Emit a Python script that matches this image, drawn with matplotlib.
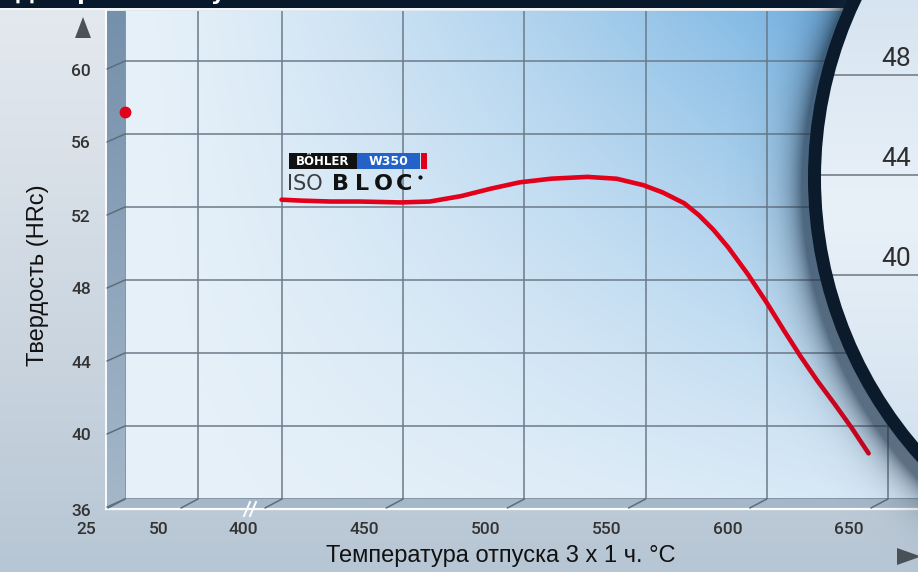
import numpy as np
import matplotlib
matplotlib.use("Agg")
import matplotlib.pyplot as plt
from matplotlib.patches import Rectangle, Polygon, Circle
from matplotlib.colors import to_rgb

# Tempering curve, BÖHLER W350 ISOBLOC (tempering 3 x 1 h)
temp_c = [398, 408, 420, 432, 449, 461, 474, 486, 498, 511, 526, 538, 549,
          557, 566, 572, 578, 584, 592, 600, 607, 614, 621, 628, 635, 642]
hardness_hrc = [52.4, 52.35, 52.3, 52.3, 52.25, 52.3, 52.6, 53.0, 53.35, 53.55,
                53.65, 53.55, 53.2, 52.8, 52.2, 51.55, 50.75, 49.8, 48.35, 46.75,
                45.25, 43.8, 42.45, 41.2, 39.9, 38.5]

# as-hardened state
quench_temp_c = [25]
quench_hrc = [57.2]

x_ticks = [25, 50, 400, 450, 500, 550, 600, 650]
x_tick_labels = ["25", "50", "400", "450", "500", "550", "600", "650"]
y_ticks = [36, 40, 44, 48, 52, 56, 60]
y_tick_labels = ["36", "40", "44", "48", "52", "56", "60"]
lens_ticks = [48, 44, 40]
lens_tick_labels = ["48", "44", "40"]

title = "Диаграмма отпуска"
x_label = "Температура отпуска 3 х 1 ч. °C"
y_label = "Твердость (HRc)"

W, H = 918, 572
fig = plt.figure(figsize=(W / 100, H / 100), dpi=100)


def blend(c0, c1, t):
    c0 = np.array(to_rgb(c0))
    c1 = np.array(to_rgb(c1))
    return c0 + (c1 - c0) * t[..., None]


# ---------- background layer (pixel coordinates) ----------
yy, xx = np.mgrid[0:H, 0:W] + 0.5
bg = blend("#e4e9ef", "#b7c6d4", (yy / H) ** 1.1)

PX0, PX1, PY0, PY1 = 125, 918, 11, 499
inside = (xx >= PX0) & (yy >= PY0) & (yy < PY1)
xn = np.clip((xx - PX0) / (PX1 - PX0), 0, 1)
yn = np.clip((yy - PY0) / (PY1 - PY0), 0, 1)
t = np.clip(xn * (1 - 0.78 * yn), 0, 1) ** 1.35
panel = blend("#e7f1f9", "#5fa6dd", t)
bg[inside] = panel[inside]

wall = (xx >= 107) & (xx < PX0) & (yy >= PY0) & (yy < 508)
bg[wall] = blend("#7590ab", "#a4b7c9", yn)[wall]

bg[0:8] = to_rgb("#07192b")
bg[8:10, :840] = to_rgb("#f2f5f8")

ax_bg = fig.add_axes([0, 0, 1, 1])
ax_bg.imshow(bg, extent=(0, W, H, 0), aspect="auto", interpolation="bilinear")
ax_bg.add_patch(Polygon([(PX0, PY1), (W, PY1), (W, 508), (107, 508)],
                        closed=True, fc="#a4b8ca", ec="none"))
ax_bg.plot([106, 106], [PY0, 509], color="white", lw=1.4, alpha=0.9)
ax_bg.plot([106, W], [509, 509], color="white", lw=1.6, alpha=0.95)
for x0 in (244, 250):
    ax_bg.plot([x0, x0 + 6], [516, 502], color="white", lw=1.4)
ax_bg.add_patch(Polygon([(75, 38), (91, 38), (83, 17)], closed=True,
                        fc="#4b5159", ec="none"))
ax_bg.add_patch(Polygon([(897, 548), (897, 565), (921, 556.5)], closed=True,
                        fc="#4b5159", ec="none"))
ax_bg.set_xlim(0, W)
ax_bg.set_ylim(H, 0)
ax_bg.set_axis_off()

# ---------- data axes with broken temperature axis ----------
XP = [25, 50, 400, 700]
FP = [125, 198, 282, 282 + 300 * 121.2 / 50]


def fwd(v):
    return np.interp(v, XP, FP)


def inv(p):
    return np.interp(p, FP, XP)


ax = fig.add_axes([PX0 / W, 1 - PY1 / H, (PX1 - PX0) / W, (PY1 - PY0) / H])
ax.set_xscale("function", functions=(fwd, inv))
ax.set_xlim(25, float(inv(W)))
ax.set_ylim(36, 36 + (PY1 - PY0) / 18.25)
ax.patch.set_alpha(0)
for s in ax.spines.values():
    s.set_visible(False)
ax.set_xticks(x_ticks)
ax.set_yticks(y_ticks)
ax.tick_params(length=0, labelbottom=False, labelleft=False)
ax.grid(True, color="#6b7b89", lw=1.1)

tick_font = dict(family="Roboto", fontsize=12.5, fontweight="medium",
                 color="#333333")
for v, lab in zip(x_ticks, x_tick_labels):
    ax.annotate("", xy=(v, 36), xytext=(-17, -9), textcoords="offset pixels",
                annotation_clip=False,
                arrowprops=dict(arrowstyle="-", color="#5d6d7b", lw=1.1,
                                shrinkA=0, shrinkB=0))
    ax.annotate(lab, xy=(v, 36), xytext=(-39, -30), textcoords="offset pixels",
                ha="center", va="center", annotation_clip=False, **tick_font)
for v, lab in zip(y_ticks, y_tick_labels):
    ax.annotate("", xy=(25, v), xytext=(-18, -8), textcoords="offset pixels",
                annotation_clip=False,
                arrowprops=dict(arrowstyle="-", color="#5d6d7b", lw=1.1,
                                shrinkA=0, shrinkB=0))
    dy = -12 if v == 36 else -10
    ax.annotate(lab, xy=(25, v), xytext=(-34, dy), textcoords="offset pixels",
                ha="right", va="center", annotation_clip=False, **tick_font)

ax.plot(temp_c, hardness_hrc, color="#e2001a", lw=3.3,
        solid_capstyle="round", solid_joinstyle="round", zorder=5)
ax.plot(quench_temp_c, quench_hrc, "o", ms=7.5, color="#e2001a",
        clip_on=False, zorder=6)

# ---------- overlay: logo, magnifier ----------
ax_top = fig.add_axes([0, 0, 1, 1])
ax_top.set_xlim(0, W)
ax_top.set_ylim(H, 0)
ax_top.set_axis_off()
ax_top.patch.set_alpha(0)

ax_top.add_patch(Rectangle((289, 153), 68, 16, fc="#111111", ec="none"))
ax_top.add_patch(Rectangle((357, 153), 63, 16, fc="#2462c8", ec="none"))
ax_top.add_patch(Rectangle((421, 153), 6, 16, fc="#e0001b", ec="none"))
ax_top.text(323, 161.5, "BÖHLER", color="white", fontsize=8.5,
            fontweight="bold", ha="center", va="center", family="DejaVu Sans")
ax_top.text(388.5, 161.5, "W350", color="white", fontsize=9,
            fontweight="bold", ha="center", va="center", family="DejaVu Sans")
ax_top.text(287, 183.5, "ISO", color="#3d3d3d", fontsize=15,
            ha="left", va="center", family="DejaVu Sans")
for ch, xc in zip("BLOC", (341, 362, 383, 404)):
    ax_top.text(xc, 183.5, ch, color="#111111", fontsize=16, fontweight="heavy",
                ha="center", va="center", family="DejaVu Sans")
ax_top.plot(420, 177, "o", ms=2, color="#111111")

# magnifier
cx, cy, r_out = 1231, 178, 423
ring_w = 13
d = np.hypot(xx - (cx - 6), yy - (cy + 10)) - r_out
sh_alpha = np.where(d > 0, 0.62 * np.exp(-d / 15), 0.62)
shadow = np.zeros((H, W, 4))
shadow[..., :3] = to_rgb("#17293d")
shadow[..., 3] = sh_alpha
ax_top.imshow(shadow, extent=(0, W, H, 0), aspect="auto", zorder=1)

lens_clip = Circle((cx, cy), r_out - ring_w / 2, transform=ax_top.transData)
lt = np.clip(1 - np.abs(yy - 210) / 260, 0, 1)
lens = np.dstack([blend("#d2e1ef", "#e9f1f8", lt), np.ones((H, W))])
im = ax_top.imshow(lens, extent=(0, W, H, 0), aspect="auto", zorder=2)
im.set_clip_path(lens_clip)
for v, lab in zip(lens_ticks, lens_tick_labels):
    ly = 75 + (48 - v) * 25
    ln, = ax_top.plot([780, W], [ly, ly], color="#7d8893", lw=1.3, zorder=3)
    ln.set_clip_path(lens_clip)
    ax_top.text(911, ly - 16, lab, color="#2e2e2e", fontsize=19,
                family="Roboto", ha="right", va="center", zorder=3)
ax_top.add_patch(Circle((cx, cy), r_out - ring_w / 2, fill=False,
                        ec="#0b1b2c", lw=ring_w * 0.72, zorder=4))
ax_top.set_xlim(0, W)
ax_top.set_ylim(H, 0)

# ---------- titles ----------
fig.text(15 / W, 1 + 0.5 / H, title, color="white", fontsize=16,
         fontweight="bold", ha="left", va="baseline", family="DejaVu Sans")
fig.text(38 / W, 1 - 275 / H, y_label, rotation=90, fontsize=17,
         family="Liberation Sans", ha="center", va="center", color="#111111")
fig.text(501 / W, 1 - 556 / H, x_label, fontsize=17,
         family="Liberation Sans", ha="center", va="center", color="#111111")

fig.savefig("out.png", dpi=100)
